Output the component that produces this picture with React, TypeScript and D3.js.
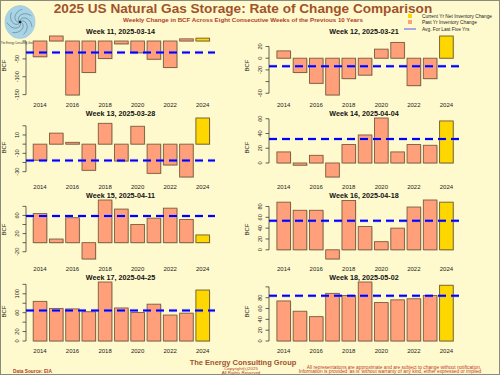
import React from "react";
import * as d3 from "d3";

const years = [2014, 2015, 2016, 2017, 2018, 2019, 2020, 2021, 2022, 2023, 2024];
const yearLabels = [2014, 2016, 2018, 2020, 2022, 2024];

const titles = [
  "Week 11, 2025-03-14",
  "Week 12, 2025-03-21",
  "Week 13, 2025-03-28",
  "Week 14, 2025-04-04",
  "Week 15, 2025-04-11",
  "Week 16, 2025-04-18",
  "Week 17, 2025-04-25",
  "Week 18, 2025-05-02",
];

const week11 = [-44, 14, -151, -88, -49, -8, -33, -51, -74, 6, 8];
const week12 = [12.5, -24.5, -43, -63, -35, -29, 15.5, 27, -47, -35, 38];
const week13 = [-17.5, 12, 2, -28.5, 22.7, -18.4, 19.5, -31.8, -22.7, -35.8, 28.5];
const week14 = [15, -3, 10.4, -19, 25, 38, 61, 15, 25, 24, 57];
const week15 = [64, 8, 55, -36, 94, 74, 40, 54, 76, 51, 17];
const week16 = [88, 73, 73, -17, 91, 43, 15, 40, 79, 92, 88];
const week17 = [84, 69, 68, 62, 125, 70, 60.5, 78, 55, 59, 108];
const week18 = [74, 55, 45, 88, 84, 109, 71, 76, 78, 84, 103];
const series = [week11, week12, week13, week14, week15, week16, week17, week18];

const avgFiveYrs = [-32, -13.7, -17.8, 32.6, 59, 53.8, 64.5, 83.6];

const yTicks = [
  [-150, -100, -50, 0],
  [-60, -40, -20, 0, 20],
  [-30, -20, -10, 0, 10, 20],
  [0, 20, 40, 60],
  [-20, 0, 20, 40, 60, 80],
  [0, 20, 40, 60, 80],
  [0, 20, 40, 60, 80, 100, 120],
  [0, 20, 40, 60, 80, 100],
];
const yTickLabels = [
  [-150, -100, -50],
  [-60, -20, 0, 20],
  [-30, -10, 10],
  [0, 20, 40, 60],
  [-20, 20, 60],
  [0, 20, 40, 60, 80],
  [0, 20, 60, 100],
  [0, 20, 40, 60, 80],
];

const legendItems = ["Current Yr Net Inventory Change", "Past Yr Inventory Change", "Avg. For Last Five Yrs"];

const FONT = "'Liberation Sans', Arial, Helvetica, sans-serif";
const BG = "#FFFACD";
const PAST = "#FFA07A";
const CUR = "#FFD700";
const BORDER = "#7A5C3E";
const TITLE_C = "#A0522D";

function Panel({ idx }: { idx: number }) {
  const col = idx % 2;
  const row = Math.floor(idx / 2);
  const vals = series[idx];
  const avg = avgFiveYrs[idx];
  const plotLeft = col === 0 ? 26 : 269;
  const plotRight = col === 0 ? 215 : 459;
  const firstCenter = col === 0 ? 40 : 283.7;
  const step = 16.27;
  const bw = 13.6;
  const x = d3
    .scaleLinear()
    .domain([years[0], years[years.length - 1]])
    .range([firstCenter, firstCenter + step * (years.length - 1)]);
  const lo = Math.min(0, avg, d3.min(vals) as number);
  const hi = Math.max(0, avg, d3.max(vals) as number);
  const y = d3.scaleLinear().domain([lo, hi]).range([95 + 82 * row, 36 + 82 * row]);
  const ticks = yTicks[idx];
  const axisTop = y(d3.max(ticks) as number);
  const axisBot = y(d3.min(ticks) as number);
  const labX = col === 0 ? 17 : 260;
  const bcfX = col === 0 ? 4 : 247;
  const midY = (95 + 36) / 2 + 82 * row;
  return (
    <g>
      <text
        x={(plotLeft + plotRight) / 2}
        y={31 + 82 * row}
        textAnchor="middle"
        dominantBaseline="central"
        fontSize={7.2}
        fontWeight="bold"
        fill="#111"
        fontFamily={FONT}
      >
        {titles[idx]}
      </text>
      {vals.map((v, i) => {
        const yr = years[i];
        const top = y(Math.max(0, v));
        const h = Math.abs(y(v) - y(0));
        const isCur = i === vals.length - 1;
        return (
          <g key={yr}>
            <rect x={x(yr) - bw / 2 + 0.8} y={top + 0.8} width={bw} height={h} fill="#B8B0A0" opacity={0.55} />
            <rect
              x={x(yr) - bw / 2}
              y={top}
              width={bw}
              height={h}
              fill={isCur ? CUR : PAST}
              stroke={isCur ? "#6E5A2A" : BORDER}
              strokeWidth={0.9}
            />
          </g>
        );
      })}
      <line x1={plotLeft} x2={plotRight} y1={y(avg)} y2={y(avg)} stroke="#8080FF" strokeOpacity={0.35} strokeWidth={3.5} strokeDasharray="8,5" />
      <line x1={plotLeft} x2={plotRight} y1={y(avg)} y2={y(avg)} stroke="#0000FF" strokeWidth={2} strokeDasharray="8,5" />
      <line x1={plotLeft} x2={plotLeft} y1={axisTop} y2={axisBot} stroke="#222" strokeWidth={0.7} />
      {ticks.map((t) => (
        <line key={t} x1={plotLeft - 3.5} x2={plotLeft} y1={y(t)} y2={y(t)} stroke="#222" strokeWidth={0.7} />
      ))}
      {yTickLabels[idx].map((t) => (
        <text
          key={t}
          transform={`translate(${labX},${y(t)}) rotate(-90)`}
          textAnchor="middle"
          dominantBaseline="central"
          fontSize={5.6}
          fill="#222"
          fontFamily={FONT}
        >
          {t}
        </text>
      ))}
      <text
        transform={`translate(${bcfX},${midY}) rotate(-90)`}
        textAnchor="middle"
        dominantBaseline="central"
        fontSize={6}
        fill="#222"
        fontFamily={FONT}
      >
        BCF
      </text>
      {yearLabels.map((yr) => (
        <text
          key={yr}
          x={x(yr)}
          y={105 + 82 * row}
          textAnchor="middle"
          dominantBaseline="central"
          fontSize={6}
          fill="#222"
          fontFamily={FONT}
        >
          {yr}
        </text>
      ))}
    </g>
  );
}

function Logo() {
  const cx = 20;
  const cy = 22;
  const arms = d3.range(7).map((k) => {
    const pts = d3.range(0, 1.01, 0.1).map((t) => {
      const a = (k / 7) * Math.PI * 2 + t * 2.2;
      const r = t * 13;
      return [cx + r * Math.cos(a), cy + r * Math.sin(a)] as [number, number];
    });
    return d3.line().curve(d3.curveBasis)(pts) as string;
  });
  return (
    <g>
      <ellipse cx={cx} cy={cy} rx={15} ry={16.5} fill="#A8D4E6" stroke="#9CC3D6" strokeWidth={0.6} />
      {arms.map((d, i) => (
        <path key={i} d={d} fill="none" stroke="#4A5A66" strokeWidth={0.6} opacity={0.8} />
      ))}
      <circle cx={cx} cy={cy} r={1.3} fill="#222" />
      <text x={18} y={43.5} textAnchor="middle" fontSize={2.6} fill="#333" fontFamily={FONT}>
        The Energy Consulting Group
      </text>
    </g>
  );
}

export default function App() {
  return (
    <svg
      width={500}
      height={375}
      viewBox="0 0 500 375"
      style={{ position: "absolute", left: 0, top: 0, display: "block" }}
    >
      <rect x={0} y={0} width={500} height={375} fill={BG} />
      <rect x={0.5} y={0.5} width={499} height={374} fill="none" stroke="#8A8A80" strokeWidth={1} />
      <Logo />
      <text x={243} y={8.5} textAnchor="middle" dominantBaseline="central" fontSize={13.6} fontWeight="bold" fill={TITLE_C} fontFamily={FONT}>
        2025 US Natural Gas Storage: Rate of Change Comparison
      </text>
      <text x={243} y={19} textAnchor="middle" dominantBaseline="central" fontSize={6.2} fontWeight="bold" fill="#B0402A" fontFamily={FONT}>
        Weekly Change in BCF Across Eight Consecutive Weeks of the Previous 10 Years
      </text>
      <g>
        <rect x={408} y={14} width={4} height={4} fill={CUR} />
        <rect x={408} y={20} width={4} height={4} fill={PAST} />
        <line x1={404} x2={416} y1={29} y2={29} stroke="#4040FF" strokeWidth={0.9} />
        {legendItems.map((t, i) => (
          <text key={t} x={422} y={16 + i * 6.5} dominantBaseline="central" fontSize={4.8} fill="#222" fontFamily={FONT}>
            {t}
          </text>
        ))}
      </g>
      {series.map((_, i) => (
        <Panel key={i} idx={i} />
      ))}
      <text x={243} y={362.8} textAnchor="middle" dominantBaseline="central" fontSize={7.5} fontWeight="bold" fill={TITLE_C} fontFamily={FONT}>
        The Energy Consulting Group
      </text>
      <text x={241} y={368.6} textAnchor="middle" dominantBaseline="central" fontSize={4.4} fill="#B0402A" fontFamily={FONT}>
        Copyright(c)2025
      </text>
      <text x={241} y={372.2} textAnchor="middle" dominantBaseline="central" fontSize={4.4} fill="#B0402A" fontFamily={FONT}>
        All Rights Reserved
      </text>
      <text x={13} y={371} dominantBaseline="central" fontSize={4.8} fontWeight="bold" fill="#B0402A" fontFamily={FONT}>
        Data Source: EIA
      </text>
      <text x={394} y={367.8} textAnchor="middle" dominantBaseline="central" fontSize={4.8} fill="#C0392B" fontFamily={FONT}>
        All representations are approximate and are subject to change without notification.
      </text>
      <text x={390} y={371.8} textAnchor="middle" dominantBaseline="central" fontSize={4.8} fill="#C0392B" fontFamily={FONT}>
        Information is provided 'as is' without warranty of any kind, either expressed or implied
      </text>
    </svg>
  );
}
